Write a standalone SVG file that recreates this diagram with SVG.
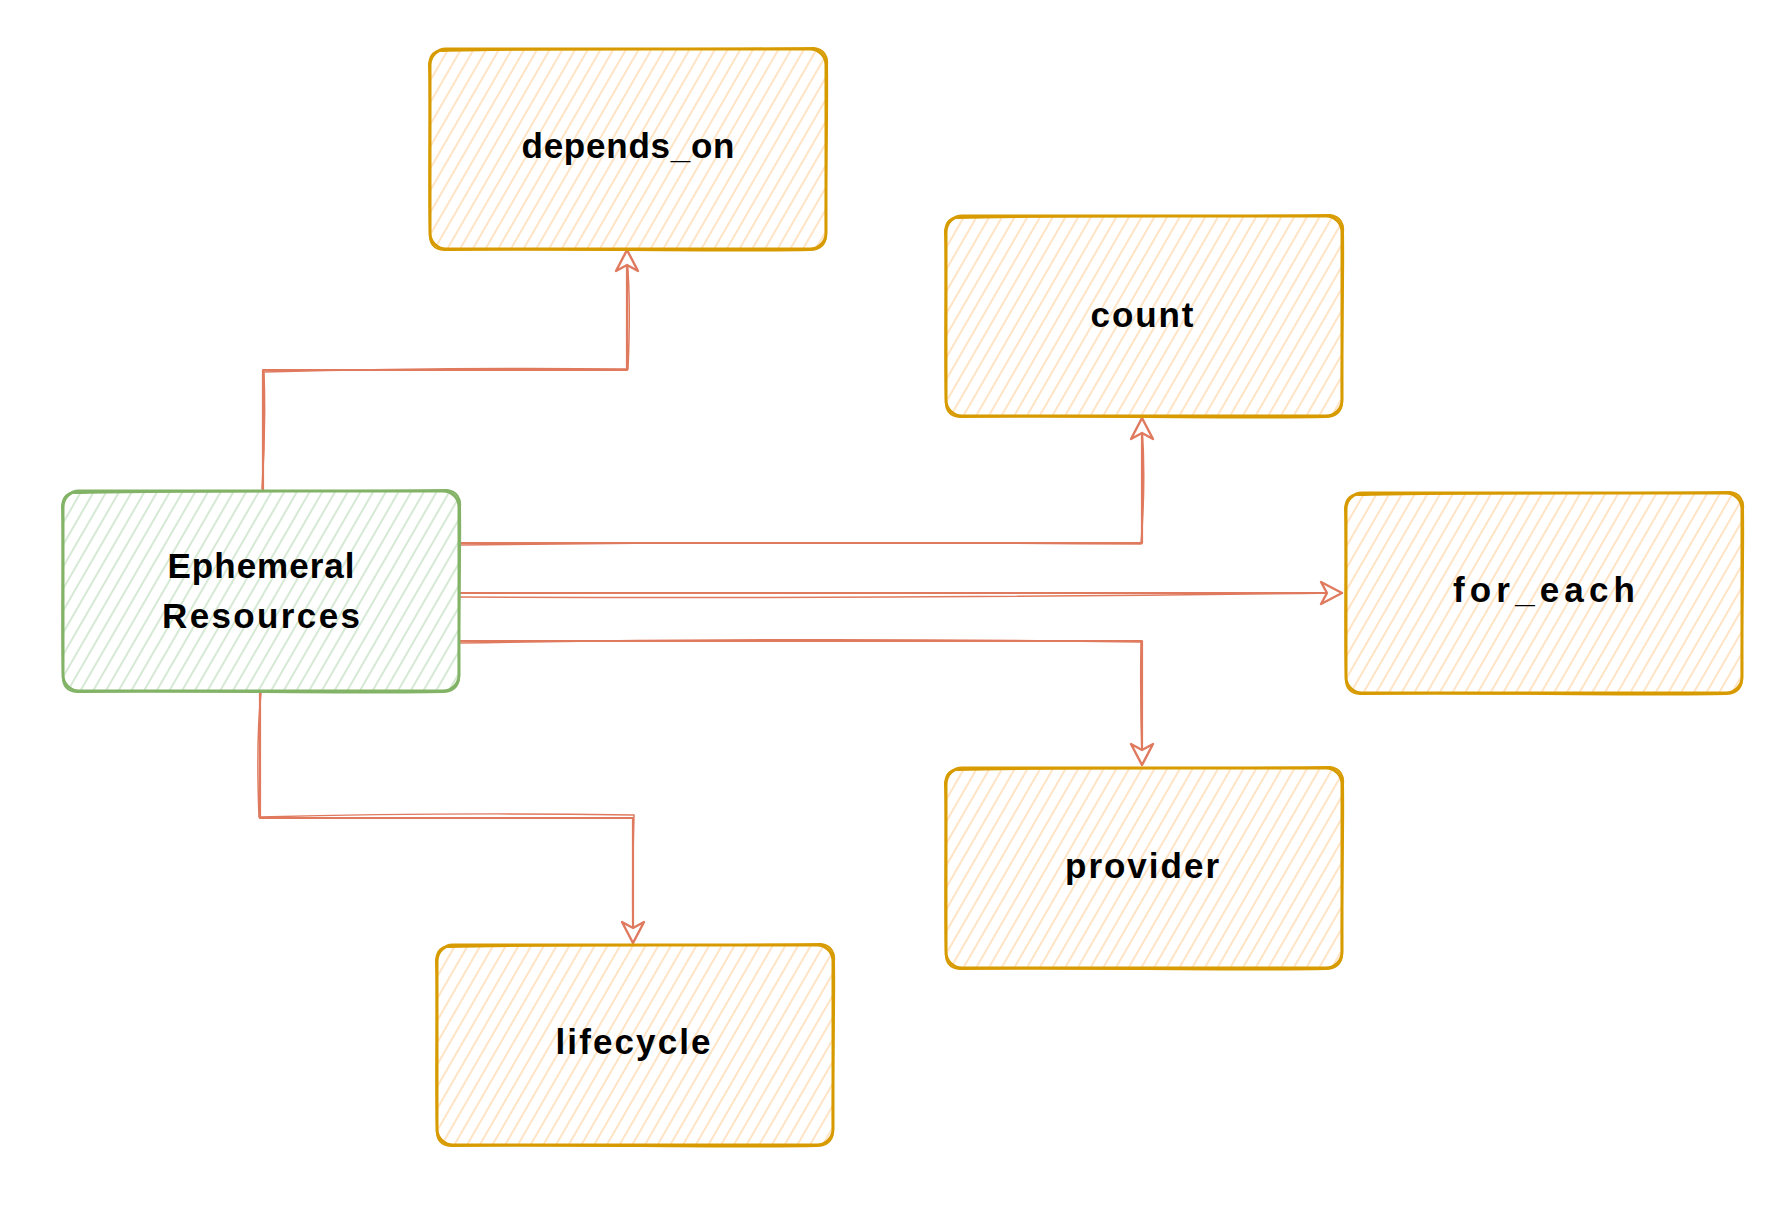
<svg xmlns="http://www.w3.org/2000/svg" xmlns:xlink="http://www.w3.org/1999/xlink" width="1792" height="1208" viewBox="0 0 1792 1208">
  <style>
    .o-fill { fill: url(#hachO); stroke: #d79b00; stroke-width: 3; }
    .o-line { fill: none; stroke: #d79b00; stroke-width: 2; }
    .g-fill { fill: url(#hachG); stroke: #82b366; stroke-width: 3; }
    .g-line { fill: none; stroke: #82b366; stroke-width: 2; }
    .edge { fill: none; stroke: #e07a5f; stroke-width: 2.2; stroke-linejoin: round; stroke-linecap: round; }
    .edge2 { fill: none; stroke: #e07a5f; stroke-width: 1.5; stroke-linecap: round; }
    .lbl { font-family: "Liberation Sans", Arial, sans-serif; font-size: 35px; font-weight: bold; fill: #000; text-anchor: middle; }
  </style>
  <defs>
    <pattern id="hachO" patternUnits="userSpaceOnUse" width="11" height="11" patternTransform="rotate(30)">
      <line x1="5" y1="-2" x2="5" y2="13" stroke="#ffd2a3" stroke-width="1.4" opacity="0.9"/>
    </pattern>
    <pattern id="hachG" patternUnits="userSpaceOnUse" width="11" height="11" patternTransform="rotate(30)">
      <line x1="5" y1="-2" x2="5" y2="13" stroke="#bddcba" stroke-width="1.4" opacity="0.9"/>
    </pattern>
    <rect id="boxA" x="0" y="0" width="396" height="200" rx="16" ry="16"/>
    <path id="boxB" d="M12,2 C120,-1 280,1 384,-1 C394,0 398,8 397,16 C398,70 395,140 396,186 C396,196 389,201 380,201 C280,203 120,199 14,201 C4,201 -1,194 0,184 C-2,130 1,60 -1,15 C0,5 5,1 12,2 Z"/>
    <marker id="arr" viewBox="-3 -14 28 28" refX="21" refY="0" markerWidth="28" markerHeight="28" markerUnits="userSpaceOnUse" orient="auto">
      <path d="M0,-11 L21,0 L0,11 L6,0 Z" fill="#ffffff" stroke="#e07a5f" stroke-width="2.4" stroke-linejoin="round"/>
    </marker>
  </defs>
  <rect x="0" y="0" width="1792" height="1208" fill="#ffffff"/>

  <g id="connectors">
    <g id="edge-depends_on">
      <path class="edge2" d="M262,489 Q266,430 264,372 Q450,367 628,369 Q631,300 627,258"/>
      <path class="edge" d="M263,491 L263,370 L627,370 L627,250" marker-end="url(#arr)"/>
    </g>
    <g id="edge-count">
      <path class="edge2" d="M460,545 Q800,541 1141,544 Q1146,480 1142,426"/>
      <path class="edge" d="M459,543 L1142,543 L1142,418" marker-end="url(#arr)"/>
    </g>
    <g id="edge-for_each">
      <path class="edge2" d="M460,597 Q900,599 1334,593"/>
      <path class="edge" d="M459,593 L1342,593" marker-end="url(#arr)"/>
    </g>
    <g id="edge-provider">
      <path class="edge2" d="M460,643 Q800,637 1141,642 Q1140,700 1142,757"/>
      <path class="edge" d="M459,641 L1142,641 L1142,765" marker-end="url(#arr)"/>
    </g>
    <g id="edge-lifecycle">
      <path class="edge2" d="M261,693 Q256,740 259,817 Q450,812 634,815 Q632,880 633,935"/>
      <path class="edge" d="M260,691 L260,818 L633,818 L633,943" marker-end="url(#arr)"/>
    </g>
  </g>

  <g id="node-ephemeral" transform="translate(63,491)">
    <use xlink:href="#boxA" class="g-fill"/>
    <use xlink:href="#boxB" class="g-line"/>
    <text class="lbl" x="198" y="87" textLength="187" lengthAdjust="spacing">Ephemeral</text>
    <text class="lbl" x="198" y="137" textLength="198" lengthAdjust="spacing">Resources</text>
  </g>

  <g id="node-depends_on" transform="translate(430,49)">
    <use xlink:href="#boxA" class="o-fill"/>
    <use xlink:href="#boxB" class="o-line"/>
    <text class="lbl" x="198" y="109" textLength="213" lengthAdjust="spacing">depends_on</text>
  </g>

  <g id="node-count" transform="translate(946,216)">
    <use xlink:href="#boxA" class="o-fill"/>
    <use xlink:href="#boxB" class="o-line"/>
    <text class="lbl" x="196" y="111" textLength="103" lengthAdjust="spacing">count</text>
  </g>

  <g id="node-for_each" transform="translate(1346,493)">
    <use xlink:href="#boxA" class="o-fill"/>
    <use xlink:href="#boxB" class="o-line"/>
    <text class="lbl" x="198" y="109" textLength="182" lengthAdjust="spacing">for_each</text>
  </g>

  <g id="node-provider" transform="translate(946,768)">
    <use xlink:href="#boxA" class="o-fill"/>
    <use xlink:href="#boxB" class="o-line"/>
    <text class="lbl" x="196" y="110" textLength="154" lengthAdjust="spacing">provider</text>
  </g>

  <g id="node-lifecycle" transform="translate(437,945)">
    <use xlink:href="#boxA" class="o-fill"/>
    <use xlink:href="#boxB" class="o-line"/>
    <text class="lbl" x="196" y="109" textLength="155" lengthAdjust="spacing">lifecycle</text>
  </g>
</svg>
